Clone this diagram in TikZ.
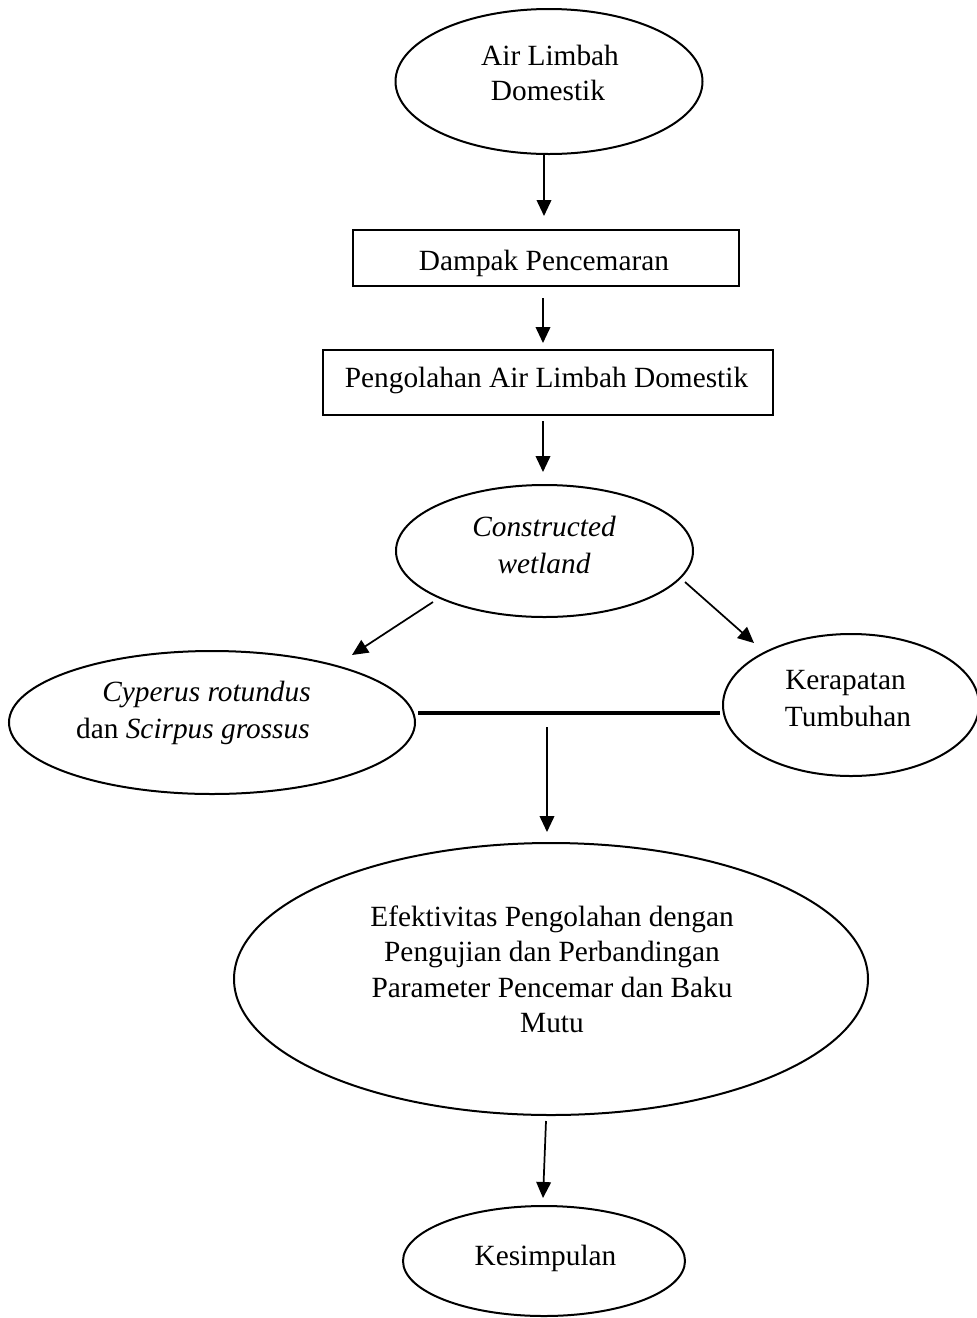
\documentclass[tikz,border=0pt]{standalone}
\usepackage{fontspec}
\setmainfont{Liberation Serif}
\usetikzlibrary{shapes.geometric,arrows.meta}
\begin{document}
\begin{tikzpicture}[x=0.75pt,y=-0.75pt,
  ell/.style={draw,ellipse,line width=1.5pt,inner sep=0pt},
  boxnode/.style={draw,rectangle,line width=1.5pt,inner sep=0pt},
  txt/.style={inner sep=0pt,anchor=base,font=\fontsize{22}{26}\selectfont},
  txtr/.style={inner sep=0pt,anchor=base east,font=\fontsize{22}{26}\selectfont},
  arr/.style={line width=1.3pt,-{Triangle[width=11pt,length=12pt]}},
  bar/.style={line width=3.4pt}]
\useasboundingbox (0,0) rectangle (977,1318);
% shapes
\node[ell,minimum width=230.25pt,minimum height=108.75pt] (e1) at (549,81.5) {};
\node[boxnode,minimum width=289.5pt,minimum height=42pt] (b1) at (546,258) {};
\node[boxnode,minimum width=337.5pt,minimum height=48.75pt] (b2) at (548,382.5) {};
\node[ell,minimum width=222.75pt,minimum height=99pt] (cw) at (544.5,551) {};
\node[ell,minimum width=304.5pt,minimum height=107.25pt] (cy) at (212,722.5) {};
\node[ell,minimum width=192pt,minimum height=106.5pt] (ke) at (851,705) {};
\node[ell,minimum width=475.5pt,minimum height=204pt] (ef) at (551,979) {};
\node[ell,minimum width=211.5pt,minimum height=82.5pt] (ks) at (544,1261) {};
% texts
\node[txt] (t1a) at (550,65) {Air Limbah};
\node[txt] (t1b) at (548,100) {Domestik};
\node[txt] (t2) at (544,270) {Dampak Pencemaran};
\node[txt] (t3) at (546.5,387) {Pengolahan Air Limbah Domestik};
\node[txt] (t4a) at (544,536) {\itshape Constructed};
\node[txt] (t4b) at (544,573) {\itshape wetland};
\node[txtr] (t5a) at (311,701) {\itshape Cyperus rotundus};
\node[txtr] (t5b) at (310,738) {dan \textit{Scirpus grossus}};
\node[txt] (t6a) at (845.5,689) {Kerapatan};
\node[txt] (t6b) at (848,726) {Tumbuhan};
\node[txt] (t7a) at (552,926) {Efektivitas Pengolahan dengan};
\node[txt] (t7b) at (552,961.5) {Pengujian dan Perbandingan};
\node[txt] (t7c) at (552,997) {Parameter Pencemar dan Baku};
\node[txt] (t7d) at (552,1032) {Mutu};
\node[txt] (t8) at (545.5,1265) {Kesimpulan};
% connector end points
\coordinate (a1s) at (544,155); \coordinate (a1e) at (544,216);
\coordinate (a2s) at (543,298); \coordinate (a2e) at (543,343);
\coordinate (a3s) at (543,421); \coordinate (a3e) at (543,472);
\coordinate (a4s) at (433,602); \coordinate (a4e) at (352,655);
\coordinate (a5s) at (685,582); \coordinate (a5e) at (754,643);
\coordinate (hs) at (418,713); \coordinate (he) at (720,713);
\coordinate (a6s) at (547,727); \coordinate (a6e) at (547,832);
\coordinate (a7s) at (546,1121); \coordinate (a7e) at (543,1198);
% connectors
\draw[arr] (a1s) -- (a1e);
\draw[arr] (a2s) -- (a2e);
\draw[arr] (a3s) -- (a3e);
\draw[arr] (a4s) -- (a4e);
\draw[arr] (a5s) -- (a5e);
\draw[bar] (hs) -- (he);
\draw[arr] (a6s) -- (a6e);
\draw[arr] (a7s) -- (a7e);
\end{tikzpicture}
\end{document}
